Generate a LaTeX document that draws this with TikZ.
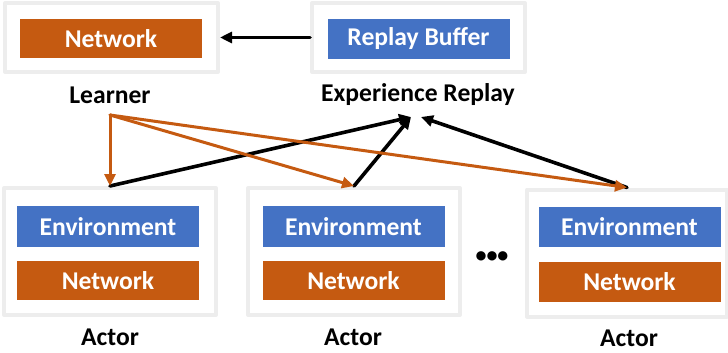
\documentclass[tikz,border=0pt]{standalone}
\usepackage{fontspec}
\setmainfont{Carlito}
\usetikzlibrary{arrows.meta,positioning}
\definecolor{NetOrange}{HTML}{C55A11}
\definecolor{EnvBlue}{HTML}{4472C4}
\definecolor{PanelGray}{HTML}{EDEDED}

\tikzset{
  panel/.style={draw=PanelGray,line width=2pt,fill=white,inner sep=0pt},
  block/.style={text=white,inner sep=0pt,minimum width=91pt,minimum height=20pt,
    font=\fontsize{12.8}{15}\selectfont\bfseries},
  netblock/.style={block,fill=NetOrange},
  envblock/.style={block,fill=EnvBlue},
  caption/.style={font=\fontsize{12.8}{15}\selectfont\bfseries,inner sep=1pt},
  sendarrow/.style={NetOrange,line width=1.5pt,-{Triangle[length=6pt,width=5.5pt]}},
  pusharrow/.style={black,line width=1.8pt,-{Triangle[length=6pt,width=5.5pt]}}
}

\begin{document}
\begin{tikzpicture}[x=0.5pt,y=-0.5pt,line cap=round,line join=round]
  \useasboundingbox (0,0) rectangle (728,353);

  % learner and replay buffer
  \node[panel,minimum width=106.5pt,minimum height=34.5pt] (learner) at (111.5,37.5) {};
  \node[netblock,minimum height=19.5pt] (learnernet) at (111,38.5) {Network};
  \node[caption] (learnerlabel) at (110,95) {Learner};

  \node[panel,minimum width=106.5pt,minimum height=34.5pt] (replay) at (418.5,37.5) {};
  \node[envblock] (buffer) at (418.5,39) {Replay Buffer};
  \node[caption] (replaylabel) at (418,95) {Experience Replay};

  % actors
  \node[panel,minimum width=106pt,minimum height=63.5pt] (actorA) at (110,251.5) {};
  \node[envblock,minimum height=20.5pt] (envA) at (108,226.5) {Environment};
  \node[netblock,minimum height=19.5pt] (netA) at (108,280.5) {Network};
  \node[caption] (labelA) at (110,337) {Actor};

  \node[panel,minimum width=106pt,minimum height=63.5pt] (actorB) at (354,251.5) {};
  \node[envblock,minimum height=20.5pt] (envB) at (353.5,226.5) {Environment};
  \node[netblock,minimum height=19.5pt] (netB) at (353.5,280.5) {Network};
  \node[caption] (labelB) at (353,337) {Actor};

  \node[panel,minimum width=100pt,minimum height=63.5pt] (actorC) at (627,253) {};
  \node[envblock,minimum height=20pt] (envC) at (629.5,227) {Environment};
  \node[netblock,minimum height=20pt] (netC) at (629.5,282) {Network};
  \node[caption] (labelC) at (629,338) {Actor};

  \node[font=\fontsize{11}{11}\selectfont\bfseries,inner sep=0pt] (more) at (492,257) {•••};

  % connectors
  \coordinate (fanout) at (110,115);
  \coordinate (sinkA) at (411,117);
  \coordinate (sinkB) at (421,117);

  \draw[pusharrow] (replay.west) -- (learner.east);

  \draw[pusharrow] (actorA.north) -- (sinkA);
  \draw[pusharrow] (actorB.north) -- (sinkA);
  \draw[pusharrow] (actorC.north) -- (sinkB);

  \draw[sendarrow] (fanout) -- (actorA.north);
  \draw[sendarrow] (fanout) -- (actorB.north);
  \draw[sendarrow] (fanout) -- (actorC.north);
\end{tikzpicture}
\end{document}
